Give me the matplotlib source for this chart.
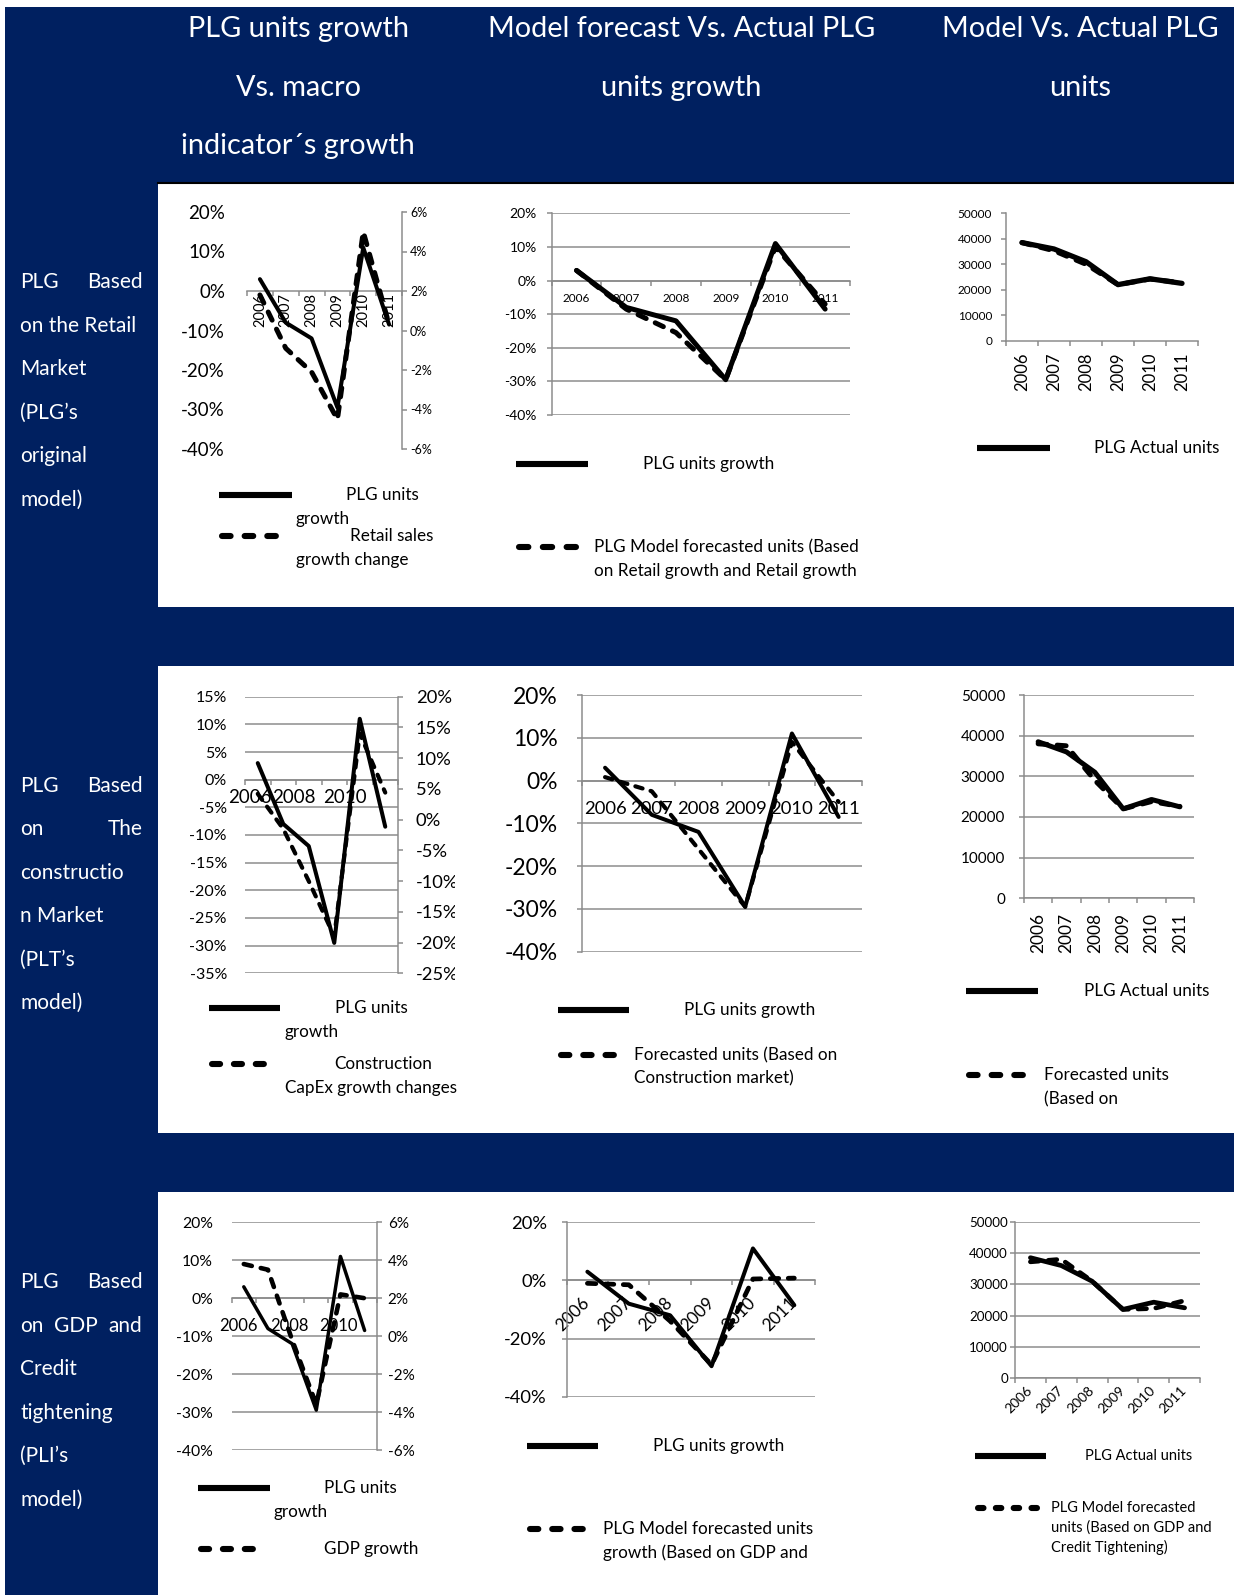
import numpy as np
import matplotlib
matplotlib.use("Agg")
import matplotlib.pyplot as plt
from matplotlib.patches import Rectangle
from matplotlib.ticker import FixedLocator, FixedFormatter, FuncFormatter
from matplotlib.transforms import Bbox, TransformedBbox

plt.rcParams["font.family"] = ["Lato", "DejaVu Sans"]

W, H, DPI = 1234, 1595, 100
PT = 72 / DPI          # points per pixel
NAVY = "#002060"
GRID = "#8a8a8a"

years = ["2006", "2007", "2008", "2009", "2010", "2011"]

# PLG units: annual growth (%) and actual units
plg_units_growth = [3.0, -8.0, -12.0, -29.5, 11.0, -8.5]
plg_actual_units = [38500, 36000, 31000, 22000, 24300, 22500]

# Retail market model (PLG's original model)
retail_sales_growth_change = [1.8, -0.9, -2.1, -4.5, 5.0, 0.3]
retail_model_growth = [3.0, -8.5, -15.5, -29.5, 10.0, -7.0]
retail_model_units = [38500, 35300, 30000, 22000, 24200, 22700]

# Construction market model (PLT's model)
construction_capex_change = [4.2, -1.5, -10.0, -19.0, 14.0, 4.4]
construction_model_growth = [0.8, -2.5, -16.0, -29.5, 9.0, -5.0]
construction_model_units = [38000, 37500, 29000, 22000, 23800, 22600]

# GDP and credit tightening model (PLI's model)
gdp_growth = [3.8, 3.5, -0.2, -3.6, 2.2, 2.0]
gdp_model_growth = [-1.0, -1.5, -14.0, -29.0, 0.5, 0.8]
gdp_model_units = [37200, 38000, 31000, 22000, 22300, 24800]

column_titles = [
    ["PLG units growth", "Vs. macro", "indicator\u00b4s growth"],
    ["Model forecast Vs. Actual PLG", "units growth"],
    ["Model Vs. Actual PLG", "units"],
]
row_titles = [
    [["PLG", "Based"], ["on the Retail"], ["Market"], ["(PLG\u2019s"], ["original"], ["model)"]],
    [["PLG", "Based"], ["on", "The"], ["constructio"], ["n Market"], ["(PLT\u2019s"], ["model)"]],
    [["PLG", "Based"], ["on", "GDP", "and"], ["Credit"], ["tightening"], ["(PLI\u2019s"], ["model)"]],
]

fig = plt.figure(figsize=(W / DPI, H / DPI), dpi=DPI)
fig.patch.set_facecolor("white")

# full-figure canvas in pixel units (y downwards) for background, titles and legends
bg = fig.add_axes([0, 0, 1, 1], zorder=0)
bg.set_xlim(0, W)
bg.set_ylim(H, 0)
bg.axis("off")

bg.add_patch(Rectangle((5, 7), W - 5, H - 7, color=NAVY, lw=0))
panels = [(183, 607), (666, 1133), (1192, 1595)]
for top, bottom in panels:
    bg.add_patch(Rectangle((158, top), W - 158, bottom - top, color="white", lw=0))
bg.plot([158, W], [183, 183], color="black", lw=1.5)

# column headers
header_x = [298, 681.6, 1080]
header_baselines = [37, 96, 154]
for cx, lines in zip(header_x, column_titles):
    for yb, s in zip(header_baselines, lines):
        bg.text(cx, yb, s, color="white", fontsize=20.8, ha="center", va="baseline")

# row headers (justified text block)
XL, XR = 20.3, 142.4
ROW_FS = 15
row_first_baseline = [288.3, 791.8, 1288.3]
for y0, lines in zip(row_first_baseline, row_titles):
    for i, words in enumerate(lines):
        yb = y0 + i * 43.5
        bg.text(XL, yb, words[0], color="white", fontsize=ROW_FS, ha="left", va="baseline")
        if len(words) > 1:
            bg.text(XR, yb, words[-1], color="white", fontsize=ROW_FS, ha="right", va="baseline")
        if len(words) == 3:
            bg.text(76, yb, words[1], color="white", fontsize=ROW_FS, ha="center", va="baseline")


def to_fig(x0, x1, y0, y1):
    return [x0 / W, 1 - y1 / H, (x1 - x0) / W, (y1 - y0) / H]


def pct(v, pos=None):
    return f"{v:.0f}%"


def plain(v, pos=None):
    return f"{v:.0f}"


def value_axes(box, ylim, ystep, fmt, size, pad, spine=True, grid=True):
    ax = fig.add_axes(to_fig(*box), zorder=1)
    ax.patch.set_visible(False)
    ax.set_xlim(-0.5, 5.5)
    ax.set_ylim(*ylim)
    ax.spines["top"].set_visible(False)
    ax.spines["right"].set_visible(False)
    ax.spines["left"].set_visible(spine)
    for s in ("left", "bottom"):
        ax.spines[s].set_color(GRID)
        ax.spines[s].set_linewidth(1.5 * PT)
    ax.spines["bottom"].set_position(("data", 0))
    ax.yaxis.set_major_locator(FixedLocator(np.arange(ylim[0], ylim[1] + ystep / 2, ystep)))
    ax.yaxis.set_major_formatter(FuncFormatter(fmt))
    ax.tick_params(axis="y", length=(5 if spine else 0) * PT, width=1.5 * PT, color=GRID,
                   pad=pad * PT, labelsize=size, labelcolor="black")
    if grid:
        ax.yaxis.grid(True, color=GRID, linewidth=1.5 * PT)
    ax.set_axisbelow(True)
    return ax


def category_axis(ax, size, pad, rotation=0, at=None, labels=years):
    at = list(range(len(labels))) if at is None else at
    ax.xaxis.set_major_locator(FixedLocator(at))
    ax.xaxis.set_major_formatter(FixedFormatter(labels))
    ax.xaxis.set_minor_locator(FixedLocator(np.arange(-0.5, 6, 1.0)))
    ax.tick_params(axis="x", which="major", length=0, pad=pad * PT, labelsize=size,
                   labelcolor="black")
    ax.tick_params(axis="x", which="minor", length=5 * PT, width=1.5 * PT, color=GRID)
    if rotation == 45:
        plt.setp(ax.get_xticklabels(), rotation=45, ha="right", va="center",
                 rotation_mode="anchor")
    elif rotation == 90:
        plt.setp(ax.get_xticklabels(), rotation=90, ha="center", va="top")


def right_axis(ax, ylim, ystep, size, pad):
    ax2 = ax.twinx()
    ax2.set_zorder(2)
    ax2.patch.set_visible(False)
    ax2.set_ylim(*ylim)
    for s in ("left", "top", "bottom"):
        ax2.spines[s].set_visible(False)
    ax2.spines["right"].set_color(GRID)
    ax2.spines["right"].set_linewidth(1.5 * PT)
    ax2.yaxis.set_major_locator(FixedLocator(np.arange(ylim[0], ylim[1] + ystep / 2, ystep)))
    ax2.yaxis.set_major_formatter(FuncFormatter(pct))
    ax2.tick_params(axis="y", length=5 * PT, width=1.5 * PT, color=GRID, pad=pad * PT,
                    labelsize=size, labelcolor="black")
    return ax2


xpos = np.arange(len(years))


def solid(ax, values, lw):
    ax.plot(xpos, values, color="black", lw=lw, solid_joinstyle="round",
            solid_capstyle="round", zorder=3)


def dashed(ax, values, lw, on=1.8, off=2.0):
    ax.plot(xpos, values, color="black", lw=lw, ls=(0, (on, off)), dash_capstyle="round",
            dash_joinstyle="round", zorder=3)


# ---------- row 1: retail market ----------
ax = value_axes((247, 402, 212, 449), (-40, 20), 10, pct, 13.5, 22, spine=False, grid=False)
category_axis(ax, 10.5, 2, rotation=90)
solid(ax, plg_units_growth, 2.9)
ax2 = right_axis(ax, (-6, 6), 2, 9, 3)
dashed(ax2, retail_sales_growth_change, 3.6)

ax = value_axes((551.7, 850, 213.3, 415), (-40, 20), 10, pct, 10, 10)
category_axis(ax, 8.5, 12)
dashed(ax, retail_model_growth, 3.6)
solid(ax, plg_units_growth, 3.6)

ax = value_axes((1006, 1198, 213.3, 340.7), (0, 50000), 10000, plain, 8.5, 9, grid=False)
category_axis(ax, 12, 12, rotation=90)
dashed(ax, retail_model_units, 3.6)
solid(ax, plg_actual_units, 3.8)

# ---------- row 2: construction market ----------
ax = value_axes((245, 398, 696.7, 973.3), (-35, 15), 5, pct, 11.5, 18, spine=False)
category_axis(ax, 13.5, 9, at=[-0.3, 1.4, 3.4], labels=["2006", "2008", "2010"])
solid(ax, plg_units_growth, 2.9)
ax2 = right_axis(ax, (-25, 20), 5, 13.2, 13)
dashed(ax2, construction_capex_change, 3.0)
clip = TransformedBbox(Bbox.from_extents(0, 0, 455 / W, 1), fig.transFigure)
for lbl in ax2.get_yticklabels():
    lbl.set_clip_box(clip)
    lbl.set_clip_on(True)

ax = value_axes((581.7, 862, 695, 951.7), (-40, 20), 10, pct, 16.5, 19)
category_axis(ax, 13.3, 20)
dashed(ax, construction_model_growth, 3.0)
solid(ax, plg_units_growth, 2.9)

ax = value_axes((1024, 1194, 695, 898.3), (0, 50000), 10000, plain, 11, 14)
category_axis(ax, 12.5, 15, rotation=90)
dashed(ax, construction_model_units, 3.6)
solid(ax, plg_actual_units, 3.6)

# ---------- row 3: GDP and credit tightening ----------
ax = value_axes((231.7, 376.7, 1222.3, 1450), (-40, 20), 10, pct, 11.3, 18.7, spine=False)
category_axis(ax, 12, 20, at=[-0.24, 1.87, 3.9], labels=["2006", "2008", "2010"])
solid(ax, plg_units_growth, 2.5)
ax2 = right_axis(ax, (-6, 6), 2, 11, 6)
dashed(ax2, gdp_growth, 3.3)

ax = value_axes((566.7, 815, 1222.3, 1396.7), (-40, 20), 20, pct, 13.2, 15)
category_axis(ax, 12.4, 20, rotation=45)
dashed(ax, gdp_model_growth, 3.4)
solid(ax, plg_units_growth, 2.9)

ax = value_axes((1015, 1200, 1221.7, 1378.3), (0, 50000), 10000, plain, 9.6, 2)
category_axis(ax, 10, 10, rotation=45)
dashed(ax, gdp_model_units, 3.4)
solid(ax, plg_actual_units, 3.4)


# ---------- legends ----------
LEG_FS = 12.3


def key_solid(x0, x1, y):
    bg.plot([x0, x1], [y, y], color="black", lw=4.4, solid_capstyle="butt")


def key_dashed(x0, x1, y, n=3):
    lw_px = 4.4 / PT
    span = x1 - x0 - lw_px
    period = span / (n - 0.35)
    on = 0.65 * period - lw_px
    off = period - on
    bg.plot([x0 + lw_px / 2, x1 - lw_px / 2], [y, y], color="black", lw=4.4,
            ls=(0, (on / lw_px, off / lw_px)), dash_capstyle="round")


def key_text(x, y, s, size=LEG_FS):
    bg.text(x, y, s, fontsize=size, ha="left", va="center", color="black")


key_solid(218.7, 292, 495.4)
key_text(345.9, 495.4, "PLG units")
key_text(296, 518.8, "growth")
key_dashed(218.7, 284.8, 536)
key_text(350, 536, "Retail sales")
key_text(296, 559.5, "growth change")

key_solid(515.8, 588, 463.9)
key_text(643, 463.9, "PLG units growth")
key_dashed(515.8, 585, 547.3)
key_text(594, 547.3, "PLG Model forecasted units (Based")
key_text(594, 570.7, "on Retail growth and Retail growth")

key_solid(976.6, 1050, 447.6)
key_text(1094.5, 447.6, "PLG Actual units")

key_solid(208.5, 279.8, 1008)
key_text(334.7, 1008, "PLG units")
key_text(284.8, 1031.6, "growth")
key_dashed(208.5, 272.6, 1064.3)
key_text(334.7, 1064.3, "Construction")
key_text(284.8, 1088.5, "CapEx growth changes")

key_solid(557.5, 628.7, 1010.2)
key_text(683.6, 1010.2, "PLG units growth")
key_dashed(557.5, 622.6, 1055.1)
key_text(633.8, 1055.1, "Forecasted units (Based on")
key_text(633.8, 1078.5, "Construction market)")

key_solid(966.4, 1037.7, 990.9)
key_text(1084.5, 990.9, "PLG Actual units")
key_dashed(966.4, 1032.5, 1075.4)
key_text(1044.5, 1075.4, "Forecasted units")
key_text(1044.5, 1099, "(Based on")

key_solid(198.4, 269.6, 1488.4)
key_text(323.5, 1488.4, "PLG units")
key_text(273.7, 1511.8, "growth")
key_dashed(198.4, 262.5, 1549.4)
key_text(323.5, 1549.4, "GDP growth")

key_solid(527, 598.2, 1445.6)
key_text(653.1, 1445.6, "PLG units growth")
key_dashed(527, 592, 1529)
key_text(603.3, 1529, "PLG Model forecasted units")
key_text(603.3, 1552.4, "growth (Based on GDP and")

key_solid(974.6, 1045.8, 1455.8)
key_text(1084.8, 1455.8, "PLG Actual units", 10.5)
key_dashed(974.6, 1045.8, 1507.7, n=4)
key_text(1051.3, 1507.7, "PLG Model forecasted", 10.5)
key_text(1051.3, 1528, "units (Based on GDP and", 10.5)
key_text(1051.3, 1547.4, "Credit Tightening)", 10.5)

fig.savefig("out.png", dpi=DPI, facecolor="white")
